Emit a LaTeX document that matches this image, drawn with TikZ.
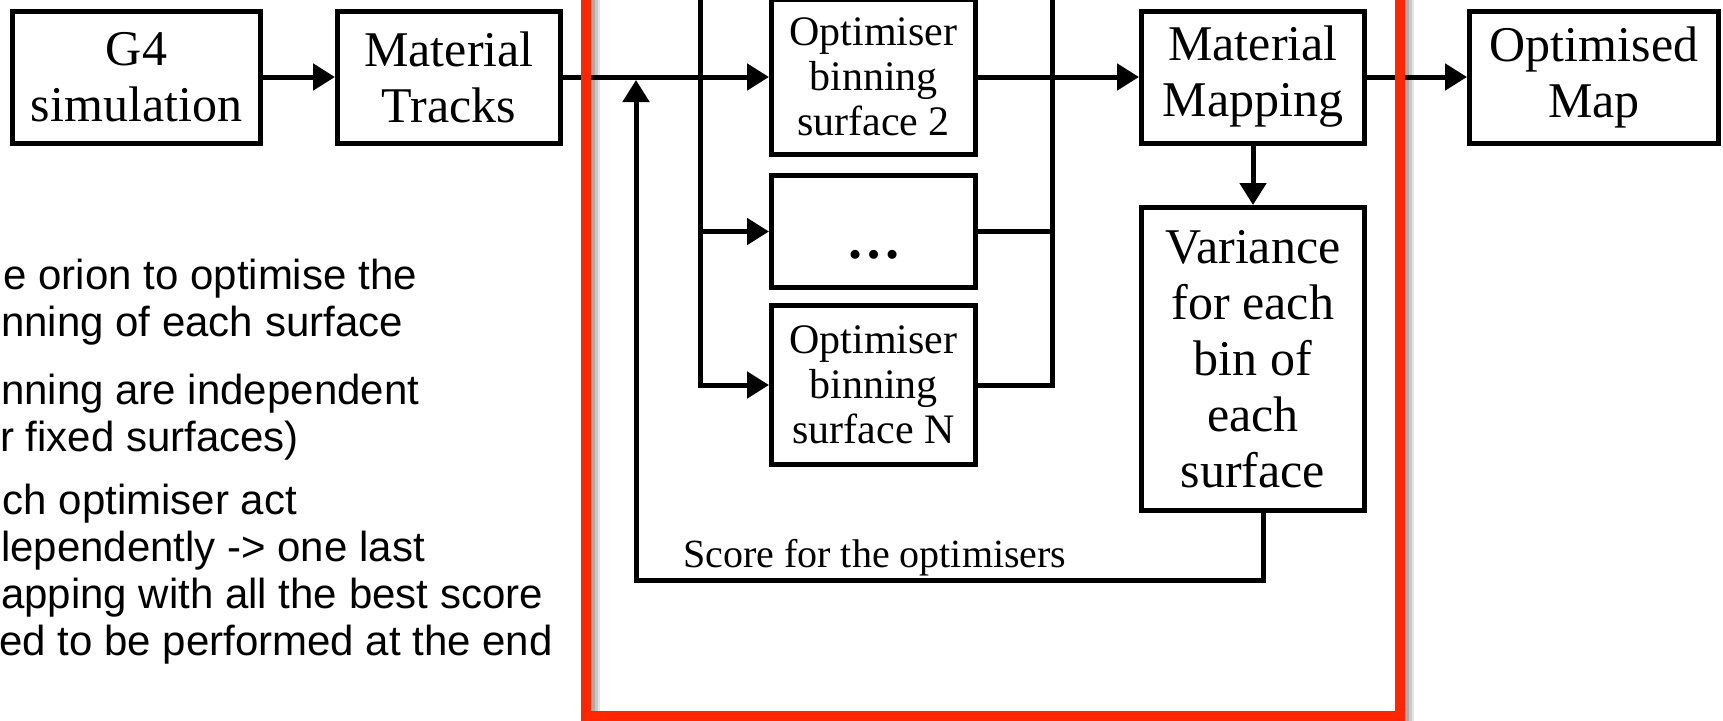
\documentclass[tikz,border=0pt]{standalone}
\usepackage{fontspec}
\setmainfont{Liberation Serif}
\newfontfamily\notefont{Liberation Sans}
\usetikzlibrary{arrows.meta}
\definecolor{framered}{RGB}{255,38,0}

\begin{document}
\begin{tikzpicture}[x=1pt,y=-1pt,
  box/.style={draw=black, line width=5pt, fill=white, inner sep=0pt, align=center,
              font=\fontsize{50}{56}\selectfont},
  optbox/.style={box, font=\fontsize{42}{45}\selectfont, minimum width=204pt},
  link/.style={line width=5pt},
  arr/.style={link, -{Triangle[length=22pt,width=26pt]}},
  note/.style={anchor=base east, inner sep=0pt, font=\notefont\fontsize{42}{47}\selectfont},
  notel/.style={note, anchor=base west},
]
\useasboundingbox (0,0) rectangle (1723,720);
\clip (0,0) rectangle (1723,720);
\fill[white] (0,0) rectangle (1723,720);

% main chain
\node[box, minimum width=248pt, minimum height=132pt] (g4)  at (136.5,77) {G4\\simulation};
\node[box, minimum width=223pt, minimum height=132pt] (mt)  at (449,77)   {Material\\Tracks};
\node[box, minimum width=223pt, minimum height=132pt] (mm)  at (1253,77)  {Material\\Mapping};
\node[box, minimum width=249pt, minimum height=132pt] (om)  at (1594,77)  {Optimised\\Map};
\node[box, minimum width=223pt, minimum height=303pt] (var) at (1253,359)
  {Variance\\for each\\bin of\\each\\surface};

% per-surface optimisers
\node[optbox, minimum height=155pt] (opt2) at (873.5,77)    {Optimiser\\binning\\surface 2};
\node[optbox, minimum height=112pt] (optd) at (873.5,231.5)
  {\raisebox{-27pt}[0pt][0pt]{\fontsize{55}{56}\selectfont\bfseries …}};
\node[optbox, minimum height=159pt] (optn) at (873.5,385)   {Optimiser\\binning\\surface N};

% bus ends and feedback loop corners
\coordinate (lbus) at (700,-12);
\coordinate (rbus) at (1052,-12);
\coordinate (fbcorner) at (636,580);
\coordinate (fbtip) at (636,80);

% connectors
\draw[arr] (g4.east) -- (mt.west);
\draw[arr] (mt.east) -- (opt2.west);
\draw[arr] (lbus) |- (optn.west);
\draw[arr] (lbus |- optd.west) -- (optd.west);
\draw[arr] (opt2.east) -- (mm.west);
\draw[link] (optd.east) -- (optd.east -| rbus);
\draw[link] (rbus) |- (optn.east);
\draw[arr] (mm.east) -- (om.west);
\draw[arr] (mm.south) -- (var.north);
\draw[arr] ([xshift=10pt]var.south) |- (fbcorner) -- (fbtip);

\node[anchor=base west, inner sep=0pt, font=\fontsize{40}{44}\selectfont] (score)
  at (683,567) {Score for the optimisers};

% notes on the left
\node[note]  (n1) at (417,289) {e orion to optimise the};
\node[notel] (n2) at (1,336)   {nning of each surface};
\node[notel] (n3) at (1,404)   {nning are independent};
\node[note]  (n4) at (299,451) {r fixed surfaces)};
\node[note]  (n5) at (297,514) {ch optimiser act};
\node[note]  (n6) at (425,561) {lependently -> one last};
\node[notel] (n7) at (1,608)   {apping with all the best score};
\node[note]  (n8) at (553,655) {ed to be performed at the end};

% highlighted frame with soft shadow
\foreach \w/\o in {16/0.10, 11/0.12, 6/0.15}
  \draw[black, opacity=\o, line width=\w pt] (592,-40) rectangle (1406,719);
\draw[framered, line width=10pt] (586,-40) rectangle (1400,716);
\end{tikzpicture}
\end{document}
